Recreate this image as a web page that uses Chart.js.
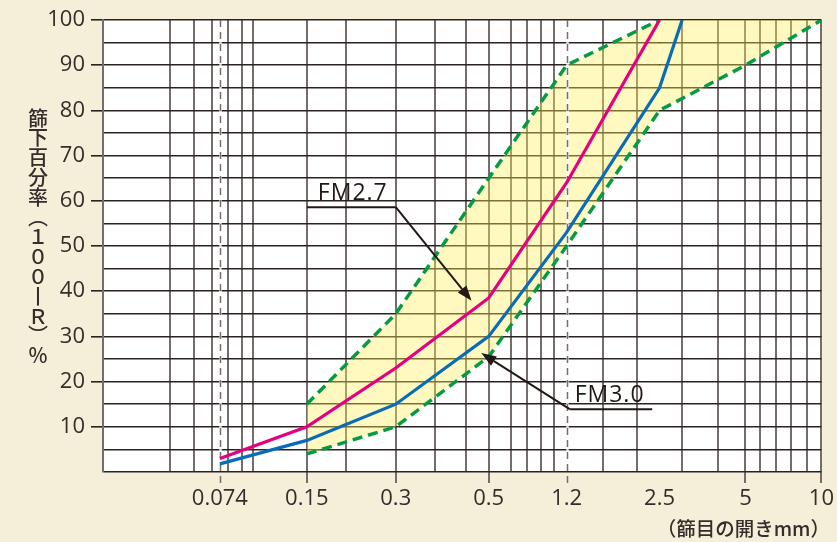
<!DOCTYPE html>
<html>
<head>
<meta charset="utf-8">
<script src="https://cdn.jsdelivr.net/npm/chart.js@4.4.1/dist/chart.umd.min.js"></script>
<style>
  html, body { margin: 0; padding: 0; background: #f5eed8; }
  canvas { display: block; }
</style>
</head>
<body>
<canvas id="chart" width="837" height="542"></canvas>
<script>
// sieve openings (mm) shown on the x axis
const sieveLabels = ['0.074', '0.15', '0.3', '0.5', '1.2', '2.5', '5', '10'];
const sieveMM = [0.074, 0.15, 0.3, 0.5, 1.2, 2.5, 5, 10];
const passTicks = [10, 20, 30, 40, 50, 60, 70, 80, 90, 100];

// 篩下百分率 per curve
const fm27Size = [0.074, 0.15, 0.3, 0.5, 1.2, 2.5];
const fm27Pass = [3, 10, 23, 38.5, 64, 100];
const fm30Size = [0.074, 0.15, 0.3, 0.5, 1.2, 2.5, 3];
const fm30Pass = [1.8, 7, 15, 30, 53, 85, 100];
const upperSize = [0.15, 0.3, 0.5, 1.2, 2.5, 5, 10];
const upperPass = [15, 35, 65, 90, 100, 100, 100];
const lowerSize = [0.15, 0.3, 0.5, 1.2, 2.5, 5, 10];
const lowerPass = [4, 10, 25.5, 50, 80, 90, 100];

// axis layout: relative gap before each sieve (the paper is not a clean log scale)
const sieveGap = [117, 87, 89, 93, 78, 93, 86, 76];
// extra vertical rules of the graph paper, in mm
const paperLinesMM = [0.0493, 0.0599, 0.0694, 0.0789, 0.0884, 0.0967, 0.203, 0.372, 0.441,
  0.640, 0.766, 0.897, 1.037, 1.594, 2.085, 3.0, 4.02, 5.73, 6.63, 7.6, 8.73];
const dashedMM = [0.074, 1.2];

const ink = '#352d2b';
const gridGray = '#756d6b';
const gridDark = '#2a2221';
const green = '#079a45';
const clear = 'rgba(0,0,0,0)';

const gapTotal = sieveGap.reduce((a, b) => a + b, 0);
const anchorFrac = [];
let acc = 0;
sieveGap.forEach(g => { acc += g; anchorFrac.push(acc / gapTotal); });

function sieveFrac(v) {
  let i = 0;
  while (i < sieveMM.length - 2 && v > sieveMM[i + 1]) i++;
  const t = Math.log(v / sieveMM[i]) / Math.log(sieveMM[i + 1] / sieveMM[i]);
  return anchorFrac[i] + t * (anchorFrac[i + 1] - anchorFrac[i]);
}

class SieveScale extends Chart.LinearScale {
  getPixelForValue(v) {
    return this.left + sieveFrac(v) * this.width;
  }
  getValueForPixel(p) {
    let lo = 0.01, hi = 20;
    for (let k = 0; k < 40; k++) {
      const mid = Math.sqrt(lo * hi);
      if (this.getPixelForValue(mid) < p) lo = mid; else hi = mid;
    }
    return lo;
  }
}
SieveScale.id = 'sieve';
SieveScale.defaults = {};
Chart.register(SieveScale);

const pts = (xs, ys) => xs.map((x, i) => ({ x: x, y: ys[i] }));
const isSieve = v => sieveMM.indexOf(v) >= 0;
const xTickValues = paperLinesMM.concat(sieveMM).sort((a, b) => a - b);
const yTickValues = [];
for (let v = 0; v <= 100; v += 5) yTickValues.push(v);

const background = {
  id: 'background',
  beforeDraw(chart) {
    const { ctx, chartArea: a } = chart;
    ctx.save();
    ctx.fillStyle = '#f5eed8';
    ctx.fillRect(0, 0, chart.width, chart.height);
    ctx.fillStyle = '#ffffff';
    ctx.fillRect(a.left, a.top, a.right - a.left, a.bottom - a.top);
    ctx.restore();
  }
};

const dashedRules = {
  id: 'dashedRules',
  beforeDatasetsDraw(chart) {
    const { ctx, chartArea: a } = chart;
    const xs = chart.scales.x;
    ctx.save();
    dashedMM.forEach(v => {
      const x = Math.round(xs.getPixelForValue(v)) + 0.5;
      ctx.strokeStyle = 'rgba(255,255,255,0.8)';
      ctx.lineWidth = 2.5;
      ctx.beginPath();
      ctx.moveTo(x, a.top + 1);
      ctx.lineTo(x, a.bottom - 1);
      ctx.stroke();
      ctx.strokeStyle = gridGray;
      ctx.lineWidth = 1.5;
      ctx.setLineDash([7, 5]);
      ctx.beginPath();
      ctx.moveTo(x, a.top);
      ctx.lineTo(x, a.bottom + 11);
      ctx.stroke();
      ctx.setLineDash([]);
    });
    ctx.restore();
  }
};

const callouts = [
  { text: 'FM2.7', a: [0.15, 58.6], b: [0.3, 58.6], knee: 'b', tip: [0.455, 37.9], dx: 11 },
  { text: 'FM3.0', a: [1.229, 13.9], b: [2.36, 13.9], knee: 'a', tip: [0.48, 26.3], dx: 5 }
];

function arrow(ctx, x0, y0, x1, y1) {
  const ang = Math.atan2(y1 - y0, x1 - x0);
  const len = 15, hw = 5.5;
  const bx = x1 - len * Math.cos(ang), by = y1 - len * Math.sin(ang);
  ctx.beginPath();
  ctx.moveTo(x0, y0);
  ctx.lineTo(bx, by);
  ctx.stroke();
  ctx.beginPath();
  ctx.moveTo(x1, y1);
  ctx.lineTo(bx + hw * Math.sin(ang), by - hw * Math.cos(ang));
  ctx.lineTo(bx - hw * Math.sin(ang), by + hw * Math.cos(ang));
  ctx.closePath();
  ctx.fill();
}

const annotations = {
  id: 'annotations',
  afterDatasetsDraw(chart) {
    const { ctx } = chart;
    const xs = chart.scales.x, ys = chart.scales.y;
    const P = p => [xs.getPixelForValue(p[0]), ys.getPixelForValue(p[1])];
    ctx.save();
    ctx.strokeStyle = '#231815';
    ctx.fillStyle = '#231815';
    ctx.lineWidth = 2;
    callouts.forEach(c => {
      const a = P(c.a), b = P(c.b), t = P(c.tip);
      const k = c.knee === 'a' ? a : b;
      ctx.beginPath();
      ctx.moveTo(a[0], a[1]);
      ctx.lineTo(b[0], b[1]);
      ctx.stroke();
      arrow(ctx, k[0], k[1], t[0], t[1]);
      ctx.font = '500 23px "Open Sans"';
      ctx.letterSpacing = '1px';
      ctx.textAlign = 'left';
      ctx.textBaseline = 'alphabetic';
      ctx.fillText(c.text, a[0] + c.dx, a[1] - 7);
    });
    ctx.restore();
  }
};

const axisTitles = {
  id: 'axisTitles',
  afterDraw(chart) {
    const { ctx } = chart;
    ctx.save();
    ctx.fillStyle = ink;
    ctx.font = '500 20px "Noto Sans CJK JP"';
    ctx.textAlign = 'center';
    ctx.textBaseline = 'middle';
    const chars = ['篩', '下', '百', '分', '率', '︵', '１', '０', '０', '丨', 'Ｒ', '︶', '％'];
    chars.forEach((ch, i) => ctx.fillText(ch, 38, 118 + i * 19.8));
    ctx.textAlign = 'right';
    ctx.font = '500 19.5px "Noto Sans CJK JP"';
    ctx.fillText('（篩目の開きmm）', 830, 529);
    ctx.restore();
  }
};

new Chart(document.getElementById('chart'), {
  type: 'line',
  data: {
    datasets: [
      { label: 'FM2.7', data: pts(fm27Size, fm27Pass), borderColor: '#e4007f', borderWidth: 3.2, pointRadius: 0, fill: false },
      { label: 'FM3.0', data: pts(fm30Size, fm30Pass), borderColor: '#0a6cb8', borderWidth: 3.2, pointRadius: 0, fill: false },
      { label: 'upper', data: pts(upperSize, upperPass), borderColor: green, borderWidth: 3.5, borderDash: [10, 6],
        pointRadius: 0, fill: '+1', backgroundColor: 'rgba(255, 238, 90, 0.38)',
        segment: { borderColor: c => c.p0.parsed.y >= 100 ? clear : green } },
      { label: 'lower', data: pts(lowerSize, lowerPass), borderColor: green, borderWidth: 3.5, borderDash: [10, 6],
        pointRadius: 0, fill: false }
    ]
  },
  options: {
    responsive: false,
    animation: false,
    events: [],
    layout: { padding: { top: 20, right: 15, left: 0, bottom: 0 } },
    elements: { line: { tension: 0 } },
    plugins: {
      legend: { display: false },
      tooltip: { enabled: false },
      filler: { drawTime: 'beforeDatasetsDraw' }
    },
    scales: {
      x: {
        type: 'sieve',
        min: 0.0286,
        max: 10,
        afterBuildTicks: s => { s.ticks = xTickValues.map(v => ({ value: v })); },
        afterFit: s => { s.height = 70; },
        border: { display: false },
        grid: {
          lineWidth: 2,
          color: c => (dashedMM.includes(c.tick.value) || c.tick.value === 2.5) ? clear : gridGray,
          tickLength: 11,
          tickWidth: 2,
          tickColor: c => (isSieve(c.tick.value) && !dashedMM.includes(c.tick.value) && c.tick.value !== 2.5) ? gridGray : clear
        },
        ticks: {
          autoSkip: false,
          maxRotation: 0,
          minRotation: 0,
          padding: 3,
          color: ink,
          font: { family: 'Open Sans', size: 22 },
          callback: v => { const i = sieveMM.indexOf(v); return i >= 0 ? sieveLabels[i] : ''; }
        }
      },
      y: {
        min: 0,
        max: 100,
        afterBuildTicks: s => { s.ticks = yTickValues.map(v => ({ value: v })); },
        afterFit: s => { s.width = 103; },
        border: { display: true, color: gridGray, width: 2 },
        grid: {
          lineWidth: 1.6,
          color: gridDark,
          tickLength: 12,
          tickWidth: 1.6,
          tickColor: c => passTicks.includes(c.tick.value) ? gridDark : clear
        },
        ticks: {
          autoSkip: false,
          padding: 6,
          color: ink,
          font: { family: 'Open Sans', size: 22 },
          callback: v => passTicks.includes(v) ? String(v) : ''
        }
      }
    }
  },
  plugins: [background, dashedRules, annotations, axisTitles]
});
</script>
</body>
</html>
